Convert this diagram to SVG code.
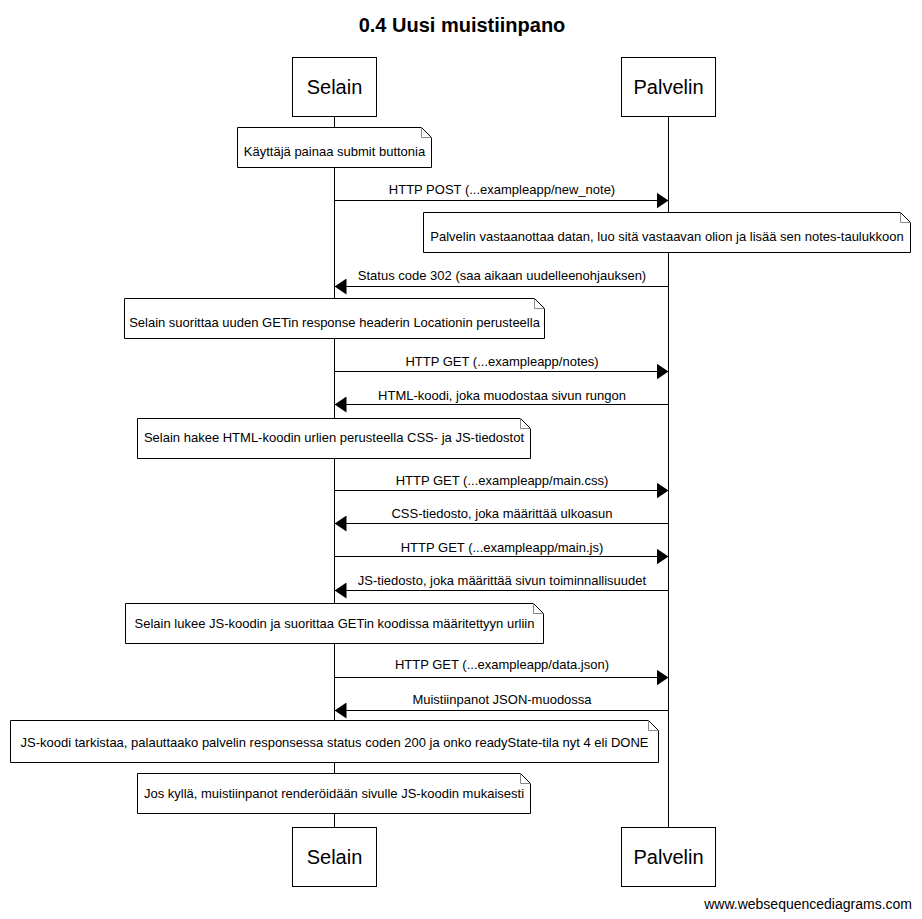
<svg xmlns="http://www.w3.org/2000/svg" width="922" height="919" viewBox="0 0 922 919">
  <style>
    text { font-family: "Liberation Sans", Arial, sans-serif; fill: #000; }
    .title { font-size: 20px; font-weight: bold; text-anchor: middle; }
    .actor rect { fill: #fff; stroke: #000; stroke-width: 1; }
    .actor text { font-size: 20px; text-anchor: middle; }
    .life { stroke: #000; stroke-width: 1; }
    .msg line { stroke: #000; stroke-width: 1; }
    .msg text { font-size: 13px; text-anchor: middle; }
    .note path.body { fill: #fff; stroke: #000; stroke-width: 1; }
    .note path.fold { fill: none; stroke: #888; stroke-width: 1; }
    .note text { font-size: 13px; text-anchor: middle; }
    .footer { font-size: 14px; text-anchor: end; }
  </style>
  <defs>
    <marker id="arrow" viewBox="0 0 12 16" refX="12" refY="8" markerWidth="12" markerHeight="16" markerUnits="userSpaceOnUse" orient="auto">
      <path d="M0,0 L12,8 L0,16 Z" fill="#000"/>
    </marker>
  </defs>
  <rect width="922" height="919" fill="#fff"/>
  <text class="title" x="462" y="32">0.4 Uusi muistiinpano</text>

  <!-- lifelines -->
  <g id="lifelines">
    <line class="life" x1="334.5" y1="116" x2="334.5" y2="827"/>
    <line class="life" x1="668.5" y1="116" x2="668.5" y2="827"/>
  </g>

  <!-- participants -->
  <g id="selain-top" class="actor">
    <rect x="292.5" y="57.5" width="84" height="59"/>
    <text x="334.5" y="94">Selain</text>
  </g>
  <g id="palvelin-top" class="actor">
    <rect x="621.5" y="57.5" width="94" height="59"/>
    <text x="668.5" y="94">Palvelin</text>
  </g>
  <g id="selain-bottom" class="actor">
    <rect x="292.5" y="827.5" width="84" height="59"/>
    <text x="334.5" y="864">Selain</text>
  </g>
  <g id="palvelin-bottom" class="actor">
    <rect x="621.5" y="827.5" width="94" height="59"/>
    <text x="668.5" y="864">Palvelin</text>
  </g>

  <!-- messages -->
  <g id="connectors" class="msg">
    <line x1="334.5" y1="200.5" x2="668.5" y2="200.5" marker-end="url(#arrow)"/>
    <text x="502" y="194">HTTP POST (...exampleapp/new_note)</text>

    <line x1="668.5" y1="286.5" x2="334.5" y2="286.5" marker-end="url(#arrow)"/>
    <text x="502" y="280">Status code 302 (saa aikaan uudelleenohjauksen)</text>

    <line x1="334.5" y1="371.5" x2="668.5" y2="371.5" marker-end="url(#arrow)"/>
    <text x="502" y="366">HTTP GET (...exampleapp/notes)</text>

    <line x1="668.5" y1="404.5" x2="334.5" y2="404.5" marker-end="url(#arrow)"/>
    <text x="502" y="400">HTML-koodi, joka muodostaa sivun rungon</text>

    <line x1="334.5" y1="490.5" x2="668.5" y2="490.5" marker-end="url(#arrow)"/>
    <text x="502" y="485">HTTP GET (...exampleapp/main.css)</text>

    <line x1="668.5" y1="523.5" x2="334.5" y2="523.5" marker-end="url(#arrow)"/>
    <text x="502" y="518">CSS-tiedosto, joka määrittää ulkoasun</text>

    <line x1="334.5" y1="556.5" x2="668.5" y2="556.5" marker-end="url(#arrow)"/>
    <text x="502" y="552">HTTP GET (...exampleapp/main.js)</text>

    <line x1="668.5" y1="590.5" x2="334.5" y2="590.5" marker-end="url(#arrow)"/>
    <text x="502" y="585">JS-tiedosto, joka määrittää sivun toiminnallisuudet</text>

    <line x1="334.5" y1="677.5" x2="668.5" y2="677.5" marker-end="url(#arrow)"/>
    <text x="502" y="669">HTTP GET (...exampleapp/data.json)</text>

    <line x1="668.5" y1="710.5" x2="334.5" y2="710.5" marker-end="url(#arrow)"/>
    <text x="502" y="704">Muistiinpanot JSON-muodossa</text>
  </g>

  <!-- notes -->
  <g id="note-submit" class="note">
    <path class="body" d="M237.5,127.5 H421.5 L431.5,137.5 V167.5 H237.5 Z"/>
    <path class="fold" d="M421.5,127.5 V137.5 H431.5"/>
    <text x="334.5" y="156">Käyttäjä painaa submit buttonia</text>
  </g>
  <g id="note-server" class="note">
    <path class="body" d="M423.5,212.5 H900.5 L910.5,222.5 V252.5 H423.5 Z"/>
    <path class="fold" d="M900.5,212.5 V222.5 H910.5"/>
    <text x="667" y="241">Palvelin vastaanottaa datan, luo sitä vastaavan olion ja lisää sen notes-taulukkoon</text>
  </g>
  <g id="note-redirect" class="note">
    <path class="body" d="M124.5,298.5 H534.5 L544.5,308.5 V338.5 H124.5 Z"/>
    <path class="fold" d="M534.5,298.5 V308.5 H544.5"/>
    <text x="334.5" y="327">Selain suorittaa uuden GETin response headerin Locationin perusteella</text>
  </g>
  <g id="note-fetch" class="note">
    <path class="body" d="M137.5,418.5 H520.5 L530.5,428.5 V458.5 H137.5 Z"/>
    <path class="fold" d="M520.5,418.5 V428.5 H530.5"/>
    <text x="334" y="442">Selain hakee HTML-koodin urlien perusteella CSS- ja JS-tiedostot</text>
  </g>
  <g id="note-js" class="note">
    <path class="body" d="M125.5,603.5 H533.5 L543.5,613.5 V643.5 H125.5 Z"/>
    <path class="fold" d="M533.5,603.5 V613.5 H543.5"/>
    <text x="334.5" y="628">Selain lukee JS-koodin ja suorittaa GETin koodissa määritettyyn urliin</text>
  </g>
  <g id="note-check" class="note">
    <path class="body" d="M10.5,720.5 H648.5 L658.5,730.5 V762.5 H10.5 Z"/>
    <path class="fold" d="M648.5,720.5 V730.5 H658.5"/>
    <text x="334.5" y="747">JS-koodi tarkistaa, palauttaako palvelin responsessa status coden 200 ja onko readyState-tila nyt 4 eli DONE</text>
  </g>
  <g id="note-render" class="note">
    <path class="body" d="M137.5,773.5 H520.5 L530.5,783.5 V813.5 H137.5 Z"/>
    <path class="fold" d="M520.5,773.5 V783.5 H530.5"/>
    <text x="334" y="798">Jos kyllä, muistiinpanot renderöidään sivulle JS-koodin mukaisesti</text>
  </g>

  <text class="footer" x="912" y="909">www.websequencediagrams.com</text>
</svg>
